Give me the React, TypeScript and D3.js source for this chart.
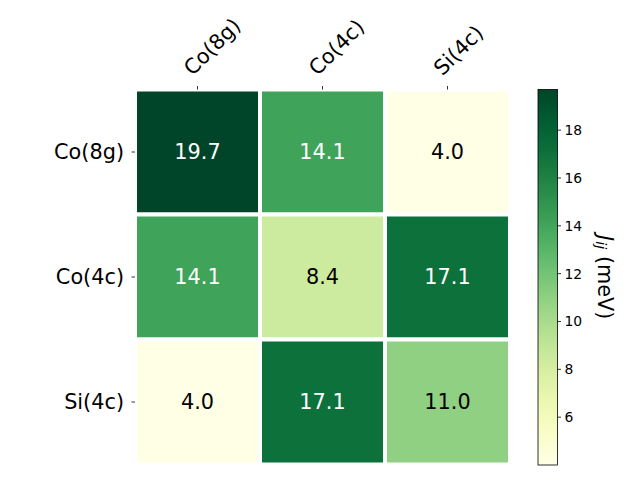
import React from "react";
import * as d3 from "d3";

const labels = ["Co(8g)", "Co(4c)", "Si(4c)"];
const values: number[][] = [
  [19.7, 14.1, 4.0],
  [14.1, 8.4, 17.1],
  [4.0, 17.1, 11.0],
];
const cbTicks = [6, 8, 10, 12, 14, 16, 18];

const W = 640, H = 480;
const ax = { x0: 135, x1: 510, y0: 89.5, y1: 464.5 };
const cb = { x0: 538, x1: 557.5, y0: 89.5, y1: 465 };
const FONT = "DejaVu Sans, sans-serif";
const FS = 20.8;

export default function App() {
  const vmin = d3.min(values.flat())!;
  const vmax = d3.max(values.flat())!;
  const color = (v: number) => d3.interpolateYlGn((v - vmin) / (vmax - vmin));
  const x = d3.scaleBand<number>().domain(d3.range(labels.length)).range([ax.x0, ax.x1]).padding(0);
  const y = d3.scaleBand<number>().domain(d3.range(labels.length)).range([ax.y0, ax.y1]).padding(0);
  const cy = d3.scaleLinear().domain([vmin, vmax]).range([cb.y1, cb.y0]);
  const thresh = (vmin + vmax) / 2;
  const stops = d3.range(0, 1.0001, 0.02);

  return (
    <svg width={W} height={H} style={{ position: "absolute", left: 0, top: 0, background: "#fff" }} fontFamily={FONT}>
      <defs>
        <linearGradient id="cbg" x1="0" y1="1" x2="0" y2="0">
          {stops.map((t) => (
            <stop key={t} offset={t} stopColor={d3.interpolateYlGn(t)} />
          ))}
        </linearGradient>
      </defs>
      {values.map((row, i) =>
        row.map((v, j) => (
          <g key={`${i}-${j}`}>
            <rect x={x(j)} y={y(i)} width={x.bandwidth()} height={y.bandwidth()} fill={color(v)} stroke="#fff" strokeWidth={4} />
            <text
              x={x(j)! + x.bandwidth() / 2}
              y={y(i)! + y.bandwidth() / 2}
              textAnchor="middle"
              dominantBaseline="central"
              fontSize={FS}
              fill={v > thresh ? "#fff" : "#000"}
            >
              {v.toFixed(1)}
            </text>
          </g>
        ))
      )}
      {/* top ticks and labels */}
      {labels.map((l, j) => {
        const cx = x(j)! + x.bandwidth() / 2;
        const tx = cx - 5, ty = ax.y0 - 13;
        return (
          <g key={"xt" + j}>
            <line x1={cx} x2={cx} y1={ax.y0} y2={ax.y0 - 3.5} stroke="#000" strokeWidth={0.8} />
            <text x={tx} y={ty} fontSize={FS} transform={`rotate(-45 ${tx} ${ty})`}>
              {l}
            </text>
          </g>
        );
      })}
      {/* left ticks and labels */}
      {labels.map((l, i) => {
        const cyy = y(i)! + y.bandwidth() / 2;
        return (
          <g key={"yt" + i}>
            <line x1={ax.x0} x2={ax.x0 - 3.5} y1={cyy} y2={cyy} stroke="#000" strokeWidth={0.8} />
            <text x={ax.x0 - 11} y={cyy} textAnchor="end" dominantBaseline="central" fontSize={FS}>
              {l}
            </text>
          </g>
        );
      })}
      {/* colorbar */}
      <rect x={cb.x0} y={cb.y0} width={cb.x1 - cb.x0} height={cb.y1 - cb.y0} fill="url(#cbg)" stroke="#000" strokeWidth={0.8} />
      {cbTicks.map((t) => (
        <g key={"cb" + t}>
          <line x1={cb.x1} x2={cb.x1 + 3.5} y1={cy(t)} y2={cy(t)} stroke="#000" strokeWidth={0.8} />
          <text x={cb.x1 + 7} y={cy(t)} dominantBaseline="central" fontSize={13.9}>
            {t}
          </text>
        </g>
      ))}
      <text
        x={605}
        y={(cb.y0 + cb.y1) / 2}
        fontSize={FS}
        textAnchor="middle"
        dominantBaseline="central"
        transform={`rotate(90 605 ${(cb.y0 + cb.y1) / 2})`}
      >
        <tspan fontStyle="italic">J</tspan>
        <tspan fontStyle="italic" fontSize={14.5} dy={4}>ij</tspan>
        <tspan dy={-4}> (meV)</tspan>
      </text>
    </svg>
  );
}
